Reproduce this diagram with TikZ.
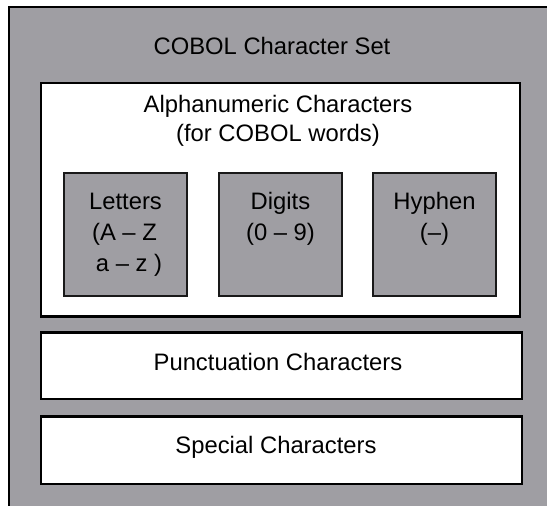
\documentclass[tikz,border=0pt]{standalone}
\usepackage{fontspec}
\setmainfont{Liberation Sans}
\definecolor{boxgray}{RGB}{159,158,163}
\begin{document}
\begin{tikzpicture}[x=1pt,y=-1pt,
  outerbox/.style={draw=black,line width=2pt,fill=boxgray},
  whitebox/.style={draw=black,line width=2.5pt,fill=white},
  graybox/.style={draw=black!90,line width=2.2pt,fill=boxgray},
  lbl/.style={anchor=base,inner sep=0pt,font=\fontsize{23.8}{28}\selectfont}]
\useasboundingbox (0,0) rectangle (547,506);
\fill[white] (0,0) rectangle (547,506);
% outer set (right and bottom edges lie outside the picture)
\draw[outerbox] (8.5,6.5) rectangle (570,530);
\node[lbl] (title) at (272,54) {COBOL Character Set};
% alphanumeric
\draw[whitebox] (41,83) rectangle (520,316.5);
\node[lbl] (alpha1) at (278,112) {Alphanumeric Characters};
\node[lbl] (alpha2) at (278,141) {(for COBOL words)};
% inner boxes
\node[graybox,minimum width=123pt,minimum height=123pt,inner sep=0pt] (letters) at (125.5,234.5) {};
\node[graybox,minimum width=123pt,minimum height=123pt,inner sep=0pt] (digits) at (280.5,234.5) {};
\node[graybox,minimum width=123pt,minimum height=123pt,inner sep=0pt] (hyphen) at (434.5,234.5) {};
\node[lbl] (let1) at (letters.center |- 0,209) {Letters};
\node[lbl] (let2) at (124.5,240) {(A – Z};
\node[lbl] (let3) at (129,271) {a – z )};
\node[lbl] (dig1) at (digits.center |- 0,209) {Digits};
\node[lbl] (dig2) at (digits.center |- 0,240) {(0 – 9)};
\node[lbl] (hyp1) at (hyphen.center |- 0,209) {Hyphen};
\node[lbl] (hyp2) at (hyphen.center |- 0,240) {(–)};
% punctuation and special
\node[whitebox,minimum width=481pt,minimum height=66.5pt,inner sep=0pt] (punct) at (281.5,365.75) {};
\node[whitebox,minimum width=481pt,minimum height=67.5pt,inner sep=0pt] (special) at (281.5,450.25) {};
\node[lbl] (punctl) at (278,370) {Punctuation Characters};
\node[lbl] (speciall) at (276,453.5) {Special Characters};
\end{tikzpicture}
\end{document}
